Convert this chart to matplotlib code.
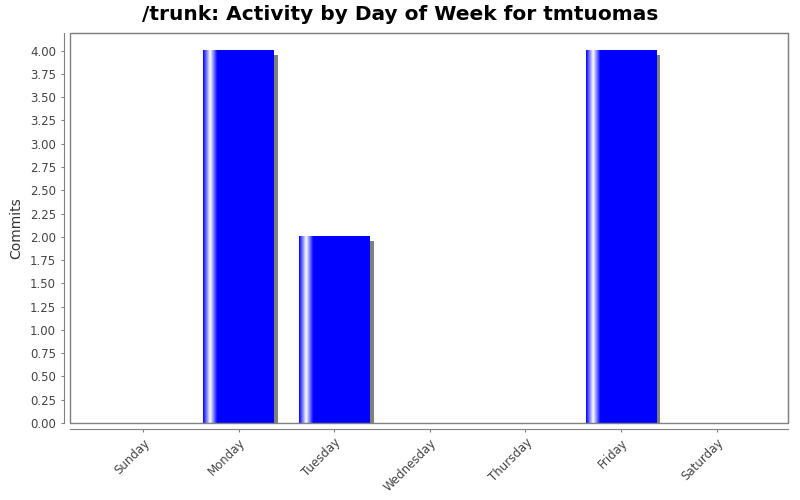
import matplotlib
matplotlib.use("Agg")
import matplotlib.pyplot as plt
import matplotlib.transforms as mtransforms
from matplotlib.patches import Rectangle
import numpy as np

days = ["Sunday", "Monday", "Tuesday", "Wednesday", "Thursday", "Friday", "Saturday"]
commits = [0, 4, 2, 0, 0, 4, 0]
yticks = [0.0, 0.25, 0.5, 0.75, 1.0, 1.25, 1.5, 1.75, 2.0, 2.25, 2.5, 2.75, 3.0, 3.25, 3.5, 3.75, 4.0]
title = "/trunk: Activity by Day of Week for tmtuomas"
ylabel = "Commits"

plt.rcParams['font.family'] = ['DejaVu Sans']
fig = plt.figure(figsize=(8, 5), dpi=100)
ax = fig.add_axes([70/800, 77/500, 718/800, 390/500])

x = np.arange(len(days))
width = 0.74
gray = "#808080"

# shadow
shadow_tr = ax.transData + mtransforms.ScaledTranslation(4/100, -4/100, fig.dpi_scale_trans)
for xi, v in zip(x, commits):
    if v > 0:
        ax.bar(xi, v, width=width, color=gray, transform=shadow_tr, zorder=1, clip_on=True)

# gradient bars
blue = np.array([0, 0, 1.0])
white = np.array([1.0, 1.0, 1.0])
n = 200
t = np.linspace(0, 1, n)
cols = np.zeros((1, n, 3))
for i, ti in enumerate(t):
    if ti < 0.10:
        f = ti / 0.10
        c = blue + (white - blue) * f
    elif ti < 0.20:
        f = (ti - 0.10) / 0.10
        c = white + (blue - white) * f
    else:
        c = blue
    cols[0, i] = c
for xi, v in zip(x, commits):
    if v > 0:
        ax.imshow(cols, extent=[xi - width/2, xi + width/2, 0, v], aspect='auto',
                  interpolation='bilinear', zorder=2)

ax.set_xlim(-0.764, 6.747)
ax.set_ylim(0, 4.19)

ax.set_xticks(x)
ax.set_xticklabels(days)
ax.set_yticks(yticks)
ax.set_yticklabels([f"{v:.2f}" for v in yticks])

for s in ['top', 'right']:
    ax.spines[s].set_color(gray)
for s in ['left', 'bottom']:
    ax.spines[s].set_position(('outward', 4))
    ax.spines[s].set_color(gray)
ax.add_patch(Rectangle((0, 0), 1, 1, transform=ax.transAxes, fill=False,
                       edgecolor=gray, lw=1, zorder=5, clip_on=False))

ax.tick_params(axis='both', colors=gray, labelcolor="#444444", labelsize=8.5, length=2.5, width=0.8)
ax.tick_params(axis='x', pad=3)
for lab in ax.get_xticklabels():
    lab.set_rotation(45)
    lab.set_ha('right')
    lab.set_rotation_mode('anchor')
ax.set_ylabel(ylabel, fontsize=10, color="#333333", labelpad=5)
fig.text(400/800, 1 - 14/500, title, ha='center', va='center', fontsize=14.5, fontweight='bold', color="#000000")

fig.savefig("out.png", dpi=100, facecolor='white')
